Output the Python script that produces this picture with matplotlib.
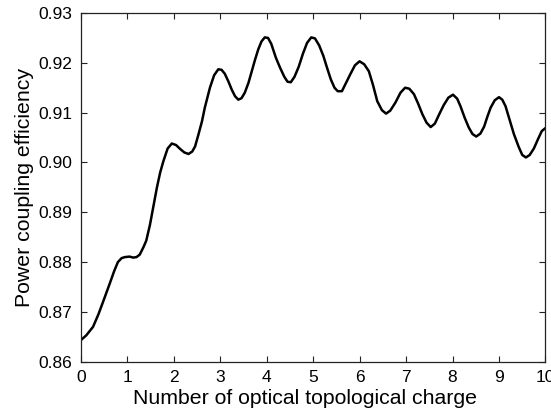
import numpy as np
import matplotlib
matplotlib.use('Agg')
import matplotlib.pyplot as plt

plt.rcParams['font.family'] = ['Liberation Sans', 'DejaVu Sans']

# topological charge vs. coupling efficiency
charge = [0.00, 0.12, 0.265, 0.38, 0.48, 0.625, 0.72, 0.80, 0.88, 0.95,
          1.05, 1.13, 1.20, 1.27, 1.35, 1.41, 1.49, 1.56, 1.64, 1.71,
          1.78, 1.87, 1.96, 2.05, 2.14, 2.23, 2.32, 2.40, 2.46, 2.53,
          2.61, 2.67, 2.78, 2.87, 2.96, 3.03, 3.10, 3.18, 3.25, 3.32,
          3.39, 3.46, 3.53, 3.61, 3.68, 3.75, 3.82, 3.89, 3.96, 4.03,
          4.10, 4.20, 4.29, 4.38, 4.45, 4.52, 4.60, 4.69, 4.78, 4.87,
          4.96, 5.04, 5.13, 5.22, 5.30, 5.38, 5.46, 5.53, 5.62, 5.71,
          5.80, 5.90, 6.00, 6.10, 6.20, 6.29, 6.38, 6.48, 6.57, 6.66,
          6.77, 6.88, 6.98, 7.07, 7.17, 7.26, 7.35, 7.44, 7.53, 7.62,
          7.72, 7.81, 7.91, 8.01, 8.10, 8.17, 8.26, 8.35, 8.43, 8.51,
          8.60, 8.68, 8.75, 8.82, 8.91, 9.00, 9.07, 9.14, 9.23, 9.32,
          9.42, 9.50, 9.58, 9.66, 9.75, 9.84, 9.92, 10.00]
efficiency = [0.8643, 0.8653, 0.8670, 0.8695, 0.8720, 0.8757, 0.8782, 0.8800, 0.8808, 0.8810,
              0.8811, 0.8809, 0.8810, 0.8815, 0.8830, 0.8843, 0.8875, 0.8910, 0.8950, 0.8980,
              0.9003, 0.9028, 0.9038, 0.9035, 0.9027, 0.9020, 0.9017, 0.9022, 0.9032, 0.9055,
              0.9083, 0.9110, 0.9150, 0.9175, 0.9187, 0.9186, 0.9178, 0.9162, 0.9146, 0.9133,
              0.9126, 0.9129, 0.9140, 0.9160, 0.9183, 0.9206, 0.9227, 0.9243, 0.9251, 0.9250,
              0.9238, 0.9210, 0.9190, 0.9172, 0.9162, 0.9161, 0.9172, 0.9192, 0.9218, 0.9240,
              0.9251, 0.9249, 0.9235, 0.9214, 0.9190, 0.9167, 0.9150, 0.9143, 0.9143, 0.9160,
              0.9177, 0.9195, 0.9203, 0.9197, 0.9183, 0.9155, 0.9123, 0.9105, 0.9098, 0.9104,
              0.9120, 0.9140, 0.9150, 0.9148, 0.9137, 0.9118, 0.9097, 0.9080, 0.9071, 0.9078,
              0.9098, 0.9115, 0.9130, 0.9136, 0.9128, 0.9113, 0.9090, 0.9070, 0.9057, 0.9052,
              0.9058, 0.9072, 0.9092, 0.9110, 0.9125, 0.9131, 0.9126, 0.9113, 0.9085, 0.9057,
              0.9032, 0.9015, 0.9010, 0.9015, 0.9028, 0.9047, 0.9063, 0.9069]

xticks = np.arange(0, 11, 1)
yticks = [0.86, 0.87, 0.88, 0.89, 0.90, 0.91, 0.92, 0.93]
ytick_labels = ['%.2f' % v for v in yticks]

fig = plt.figure(figsize=(5.51, 4.15), dpi=100)
ax = fig.add_axes([0.1465, 0.1284, 0.8435, 0.8403])

ax.plot(charge, efficiency, color='k', lw=1.8, solid_joinstyle='round')

ax.set_xlim(0, 10)
ax.set_ylim(0.86, 0.93)
ax.set_xticks(xticks)
ax.set_yticks(yticks)
ax.set_yticklabels(ytick_labels)
ax.tick_params(direction='in', length=4.5, width=0.8, labelsize=12.5,
               top=True, right=True, pad=6, colors='#222222', labelcolor='k')
for s in ax.spines.values():
    s.set_linewidth(0.9)
    s.set_color('#222222')

ax.set_xlabel('Number of optical topological charge', fontsize=15.3)
ax.xaxis.set_label_coords(0.483, -0.078)
ax.set_ylabel('Power coupling efficiency', fontsize=15.3, labelpad=3)

fig.savefig('out.png', dpi=100)
